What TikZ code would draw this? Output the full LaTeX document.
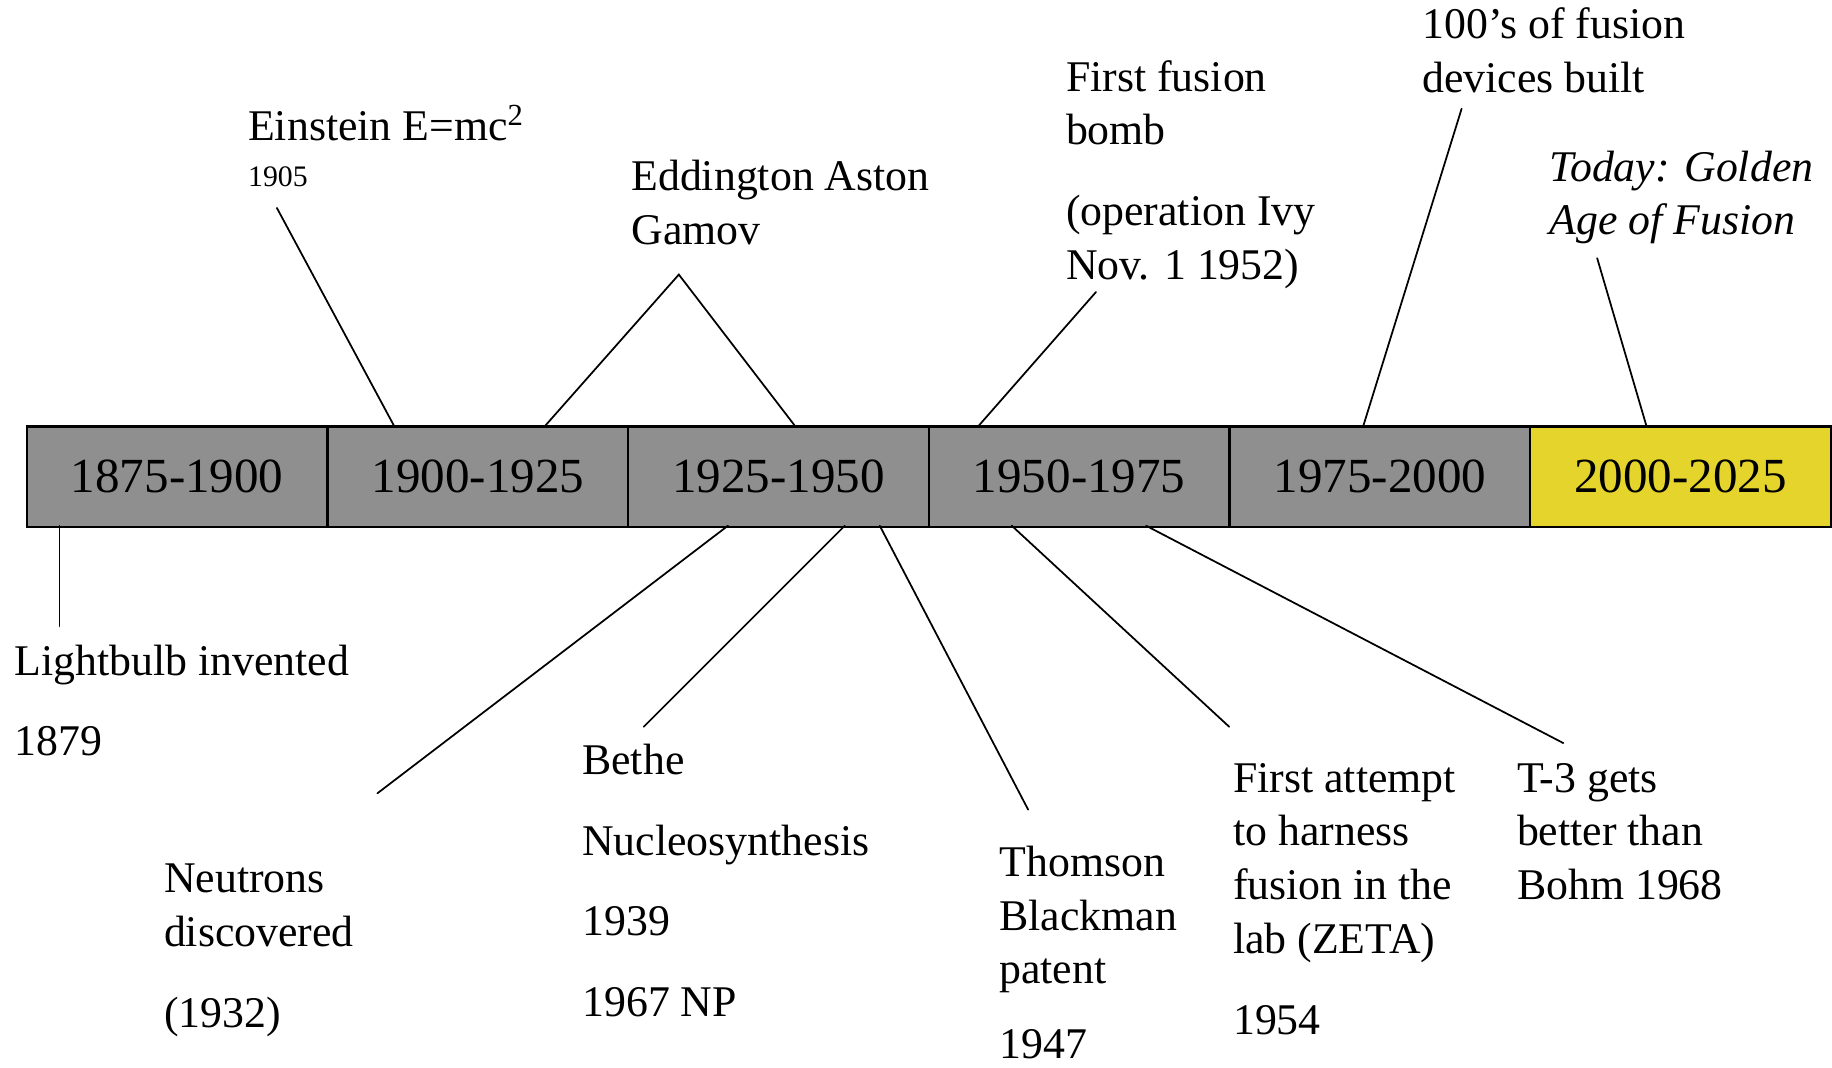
\documentclass[tikz,border=0pt]{standalone}
\usepackage{fontspec}
\setmainfont{Liberation Serif}
\definecolor{barGray}{RGB}{143,143,143}
\definecolor{barYellow}{RGB}{229,212,43}
\newcommand\barfont{\fontsize{21}{25}\selectfont}
\newcommand\lblfont{\fontsize{18.75}{23}\selectfont}
\newcommand\smallfont{\fontsize{12.75}{15}\selectfont}
\newcommand\Ln[1]{\hbox{#1}}
\newcommand\Gap{\vskip 11.5pt}
\newcommand\Stack[1]{\vtop{\baselineskip=23pt\lineskiplimit=-20pt #1}}
\begin{document}
\begin{tikzpicture}[x=0.5pt,y=-0.5pt,
  seg/.style={draw=black,line width=1pt,fill=barGray,minimum width=128.67pt,minimum height=43pt,inner sep=0pt,anchor=north west,font=\barfont},
  lbl/.style={anchor=base west,inner sep=0pt,font=\lblfont},
  conn/.style={line width=0.75pt,line cap=round}]
\useasboundingbox (0,0) rectangle (1568,914);

% timeline bar
\node[seg] (s1) at (22,364) {1875-1900};
\node[seg] (s2) at (279.33,364) {1900-1925};
\node[seg] (s3) at (536.67,364) {1925-1950};
\node[seg] (s4) at (794,364) {1950-1975};
\node[seg] (s5) at (1051.33,364) {1975-2000};
\node[seg,fill=barYellow] (s6) at (1308.67,364) {2000-2025};

% top labels
\node[lbl] (ein) at (212,120) {Einstein E=mc\textsuperscript{2}};
\node[lbl,font=\smallfont] (einy) at (212,160) {1905};
\node[lbl] (edd) at (540,163) {\Stack{\Ln{Eddington Aston}\Ln{Gamov}}};
\node[lbl] (bomb) at (912,78) {\Stack{\Ln{First fusion}\Ln{bomb}\Gap\Ln{(operation Ivy}\Ln{Nov. 1 1952)}}};
\node[lbl] (dev) at (1217,33) {\Stack{\Ln{100’s of fusion}\Ln{devices built}}};
\node[lbl] (today) at (1326,155) {\Stack{\Ln{\itshape Today: Golden}\Ln{\itshape Age of Fusion}}};

% bottom labels
\node[lbl] (bulb) at (12,578) {\Stack{\Ln{Lightbulb invented}\Gap\Ln{1879}}};
\node[lbl] (neut) at (140,764) {\Stack{\Ln{Neutrons}\Ln{discovered}\Gap\Ln{(1932)}}};
\node[lbl] (bethe) at (498,663) {\Stack{\Ln{Bethe}\Gap\Ln{Nucleosynthesis}\Gap\Ln{1939}\Gap\Ln{1967 NP}}};
\node[lbl] (thom) at (855,750) {\Stack{\Ln{Thomson}\Ln{Blackman}\Ln{patent}\vskip 9pt\Ln{1947}}};
\node[lbl] (zeta) at (1055,678) {\Stack{\Ln{First attempt}\Ln{to harness}\Ln{fusion in the}\Ln{lab (ZETA)}\Gap\Ln{1954}}};
\node[lbl] (t3) at (1298,678) {\Stack{\Ln{T-3 gets}\Ln{better than}\Ln{Bohm 1968}}};

% connector end points
\coordinate (ein-a) at (237,178);   \coordinate (ein-b) at (337,364);
\coordinate (edd-a) at (581,235);   \coordinate (edd-b) at (467,364); \coordinate (edd-c) at (680,364);
\coordinate (bomb-a) at (938,250);  \coordinate (bomb-b) at (838,364);
\coordinate (dev-a) at (1251,93);   \coordinate (dev-b) at (1167,364);
\coordinate (today-a) at (1367,221); \coordinate (today-b) at (1409,364);
\coordinate (bulb-a) at (51,450);   \coordinate (bulb-b) at (51,536);
\coordinate (neut-a) at (623,450);  \coordinate (neut-b) at (323,679);
\coordinate (bethe-a) at (723,450); \coordinate (bethe-b) at (551,622);
\coordinate (thom-a) at (753,450);  \coordinate (thom-b) at (880,693);
\coordinate (zeta-a) at (866,450);  \coordinate (zeta-b) at (1052,622);
\coordinate (t3-a) at (981,450);    \coordinate (t3-b) at (1338,636);

% connectors
\draw[conn] (ein-a) -- (ein-b);
\draw[conn] (edd-b) -- (edd-a) -- (edd-c);
\draw[conn] (bomb-a) -- (bomb-b);
\draw[conn] (dev-a) -- (dev-b);
\draw[conn] (today-a) -- (today-b);
\draw[conn] (bulb-a) -- (bulb-b);
\draw[conn] (neut-a) -- (neut-b);
\draw[conn] (bethe-a) -- (bethe-b);
\draw[conn] (thom-a) -- (thom-b);
\draw[conn] (zeta-a) -- (zeta-b);
\draw[conn] (t3-a) -- (t3-b);
\end{tikzpicture}
\end{document}
